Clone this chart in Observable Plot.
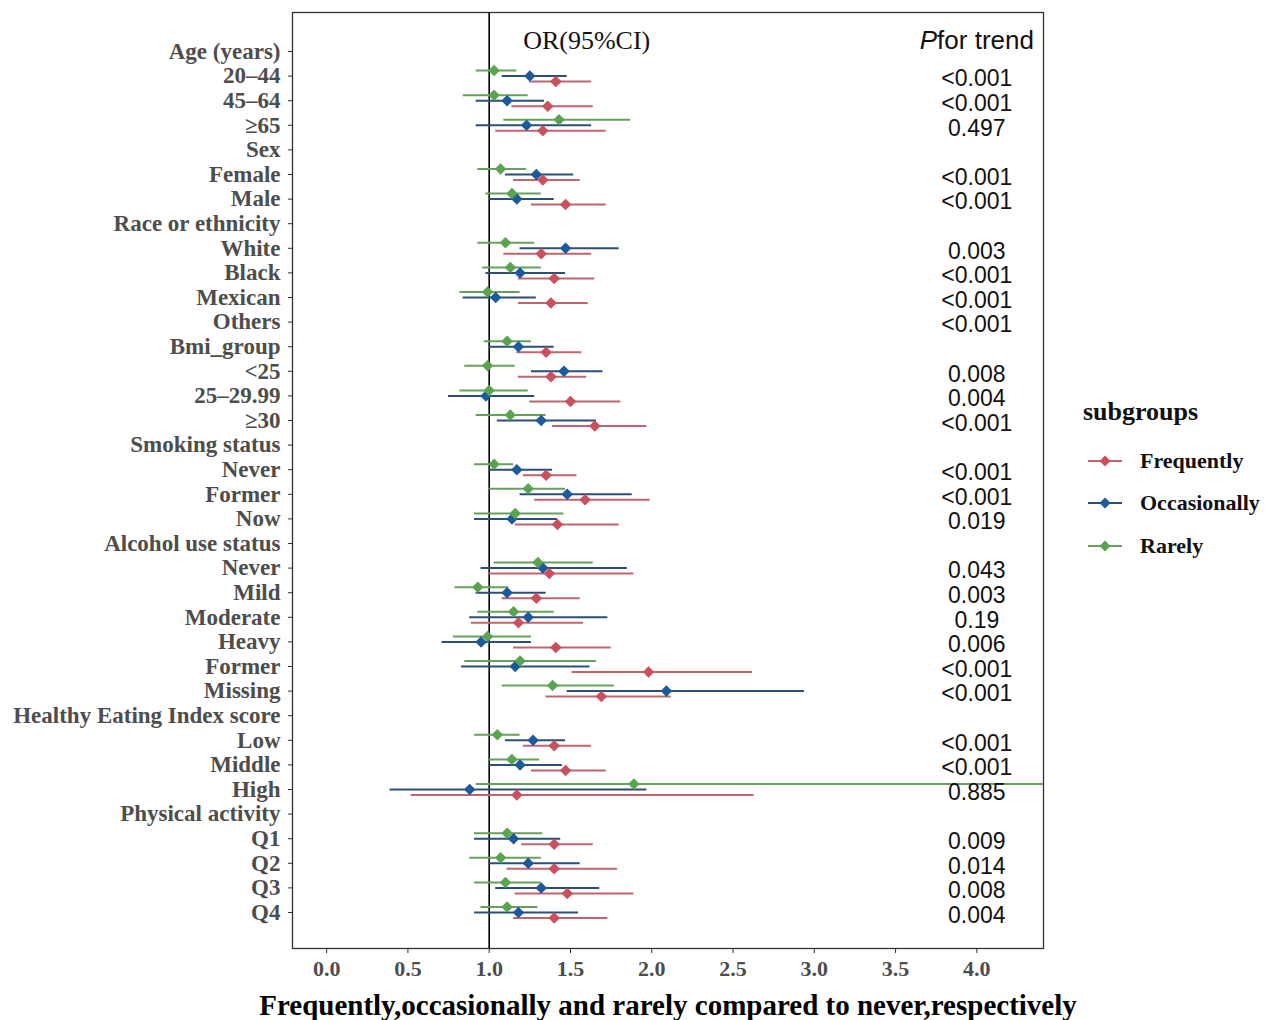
<!DOCTYPE html>
<html>
<head>
<meta charset="utf-8">
<script src="https://cdn.jsdelivr.net/npm/d3@7"></script>
<script src="https://cdn.jsdelivr.net/npm/@observablehq/plot@0.6"></script>
<style>
  body { margin: 0; background: #fff; }
  #wrap { position: relative; width: 1283px; height: 1020px; overflow: hidden; background: #fff; }
  #legend { position: absolute; left: 0; top: 0; font-family: "Liberation Serif", "Times New Roman", serif; font-weight: bold; color: #111; }
  .lg-title { position: absolute; left: 1083px; font-size: 26px; line-height: 26px; white-space: nowrap; }
  .lg-item { position: absolute; left: 1086px; height: 24px; display: flex; align-items: center; white-space: nowrap; font-size: 22px; }
  .lg-item svg { margin-right: 16px; }
</style>
</head>
<body>
<div id="wrap"><div id="legend"></div></div>
<script>
// ---- rows (y axis) ----
const rowKeys = ["age","a20","a45","a65","sex","female","male","race","white","black","mexican","others",
  "bmi","b25","b2529","b30","smoke","sNever","sFormer","sNow","alcohol","aNever","aMild","aModerate",
  "aHeavy","aFormer","aMissing","hei","hLow","hMiddle","hHigh","pa","q1","q2","q3","q4"];
const rowLabels = ["Age (years)","20–44","45–64","≥65","Sex","Female","Male","Race or ethnicity","White","Black","Mexican","Others",
  "Bmi_group","<25","25–29.99","≥30","Smoking status","Never","Former","Now","Alcohol use status","Never","Mild","Moderate",
  "Heavy","Former","Missing","Healthy Eating Index score","Low","Middle","High","Physical activity","Q1","Q2","Q3","Q4"];

// ---- rows that carry estimates ----
const estRows = ["a20","a45","a65","female","male","white","black","mexican","bmi","b25","b2529","b30",
  "sNever","sFormer","sNow","aNever","aMild","aModerate","aHeavy","aFormer","aMissing","hLow","hMiddle","hHigh",
  "q1","q2","q3","q4"];

// Frequently (red)
const freqOR = [1.41,1.36,1.33,1.33,1.47,1.32,1.40,1.38,1.35,1.38,1.50,1.65,1.35,1.59,1.42,1.37,1.29,1.18,1.41,1.98,1.69,1.40,1.47,1.17,1.40,1.40,1.48,1.40];
const freqLo = [1.25,1.14,1.04,1.15,1.26,1.09,1.18,1.18,1.17,1.18,1.25,1.39,1.21,1.28,1.16,1.00,1.08,0.89,1.15,1.51,1.35,1.21,1.26,0.52,1.20,1.11,1.16,1.15];
const freqHi = [1.63,1.64,1.72,1.56,1.72,1.63,1.65,1.61,1.57,1.60,1.81,1.97,1.54,1.99,1.80,1.89,1.56,1.58,1.75,2.62,2.12,1.63,1.72,2.63,1.64,1.79,1.89,1.73];
// Occasionally (blue)
const occOR = [1.25,1.11,1.23,1.29,1.17,1.47,1.19,1.04,1.18,1.46,0.98,1.32,1.17,1.48,1.14,1.33,1.11,1.24,0.95,1.16,2.09,1.27,1.19,0.88,1.15,1.24,1.32,1.18];
const occLo = [1.08,0.92,0.92,1.10,1.00,1.19,0.98,0.84,1.00,1.26,0.75,1.05,1.00,1.19,0.91,0.95,0.92,0.88,0.71,0.83,1.48,1.10,1.00,0.39,0.91,1.00,1.04,0.91];
const occHi = [1.48,1.34,1.63,1.52,1.40,1.80,1.47,1.29,1.40,1.70,1.28,1.66,1.39,1.88,1.42,1.85,1.35,1.73,1.26,1.62,2.94,1.47,1.45,1.97,1.44,1.56,1.68,1.55];
// Rarely (green)
const rareOR = [1.03,1.03,1.43,1.07,1.14,1.10,1.13,0.99,1.11,0.99,1.00,1.13,1.03,1.24,1.16,1.30,0.93,1.15,0.99,1.19,1.39,1.05,1.14,1.89,1.11,1.07,1.10,1.11];
const rareLo = [0.92,0.84,1.09,0.93,0.98,0.93,0.96,0.82,0.97,0.85,0.82,0.92,0.91,1.00,0.91,1.03,0.79,0.93,0.78,0.85,1.08,0.91,1.00,0.92,0.91,0.88,0.91,0.95];
const rareHi = [1.17,1.24,1.87,1.23,1.32,1.28,1.32,1.19,1.26,1.16,1.24,1.35,1.15,1.47,1.46,1.64,1.12,1.40,1.26,1.66,1.77,1.19,1.31,4.50,1.33,1.32,1.32,1.30];

// ---- P for trend ----
const pRows = ["a20","a45","a65","female","male","white","black","mexican","others","b25","b2529","b30",
  "sNever","sFormer","sNow","aNever","aMild","aModerate","aHeavy","aFormer","aMissing","hLow","hMiddle","hHigh",
  "q1","q2","q3","q4"];
const pValues = ["<0.001","<0.001","0.497","<0.001","<0.001","0.003","<0.001","<0.001","<0.001","0.008","0.004","<0.001",
  "<0.001","<0.001","0.019","0.043","0.003","0.19","0.006","<0.001","<0.001","<0.001","<0.001","0.885",
  "0.009","0.014","0.008","0.004"];

// ---- axis ----
const xTicks = [0, 0.5, 1, 1.5, 2, 2.5, 3, 3.5, 4];
const xDomain = [-0.21, 4.41];
const refLine = 1;
const orHeaderX = 1.6;
const pHeaderX = 4.0;

// ---- series ----
const seriesNames = ["Frequently", "Occasionally", "Rarely"];
const pointColors = ["#c9505c", "#1d5a9a", "#5aa34f"];
const lineColors = ["#c26470", "#2b4f78", "#67a05a"];
const seriesOffset = [5.5, 0, -5.5];
const seriesData = [[freqOR, freqLo, freqHi], [occOR, occLo, occHi], [rareOR, rareLo, rareHi]];

const tables = seriesData.map(([or, lo, hi], s) =>
  estRows.map((k, i) => ({ key: k, or: or[i], lo: lo[i], hi: hi[i], series: seriesNames[s] })));
const pTable = pRows.map((k, i) => ({ key: k, p: pValues[i] }));
const labelOf = new Map(rowKeys.map((k, i) => [k, rowLabels[i]]));

const serif = "'Liberation Serif', 'Times New Roman', serif";
const sans = "'Liberation Sans', Arial, sans-serif";

const marks = [
  Plot.frame({ stroke: "#333", strokeWidth: 1.3 }),
  Plot.ruleX([refLine], { stroke: "#000", strokeWidth: 1.6 })
];
for (const s of [0, 1, 2]) {
  marks.push(Plot.ruleY(tables[s], { y: "key", x1: "lo", x2: "hi", stroke: lineColors[s], strokeWidth: 2, dy: seriesOffset[s], clip: true }));
}
for (const s of [0, 1, 2]) {
  marks.push(Plot.dot(tables[s], { x: "or", y: "key", symbol: "diamond2", r: 5.2, fill: pointColors[s], stroke: "none", dy: seriesOffset[s] }));
}
marks.push(
  Plot.text(pTable, { x: () => pHeaderX, y: "key", text: "p", dy: 3, fontFamily: sans, fontSize: 23, fill: "#111" }),
  Plot.text(["OR(95%CI)"], { x: () => orHeaderX, y: () => "age", text: d => d, dy: -11, fontFamily: serif, fontSize: 26, fill: "#111" }),
  Plot.text(["Pfor trend"], { x: () => pHeaderX, y: () => "age", text: d => d, dy: -11, fontFamily: sans, fontSize: 26, fill: "#111", className: "phead" }),
  Plot.axisY({ tickSize: 4, tickPadding: 8, tickFormat: k => labelOf.get(k), fontFamily: serif, fontSize: 23, fontWeight: "bold", fill: "#4d4d4d", stroke: "#333", label: null }),
  Plot.axisX({ ticks: xTicks, tickFormat: d3.format(".1f"), tickSize: 5, tickPadding: 7, fontFamily: serif, fontSize: 22, fontWeight: "bold", fill: "#4d4d4d", stroke: "#333", label: null }),
  Plot.text(["Frequently,occasionally and rarely compared to never,respectively"], {
    frameAnchor: "bottom", dy: 57, lineAnchor: "middle", text: d => d, fontFamily: serif, fontSize: 29, fontWeight: "bold", fill: "#000"
  })
);

const chart = Plot.plot({
  width: 1283,
  height: 1020,
  marginLeft: 292,
  marginRight: 240,
  marginTop: 12,
  marginBottom: 72,
  style: { background: "#fff", overflow: "visible" },
  x: { domain: xDomain, axis: null },
  y: { type: "point", domain: rowKeys, range: [51, 912], padding: 0, round: false, axis: null },
  marks
});
document.getElementById("wrap").prepend(chart);

// italic P in header
d3.select(chart).selectAll(".phead text").each(function () {
  if (this.textContent === "Pfor trend") {
    this.textContent = "";
    d3.select(this).append("tspan").attr("font-style", "italic").text("P");
    d3.select(this).append("tspan").text("for trend");
  }
});

// legend
const legend = d3.select("#legend");
legend.append("div").attr("class", "lg-title").style("top", "399px").text("subgroups");
const itemY = [461, 503, 546];
seriesNames.forEach((name, s) => {
  const item = legend.append("div").attr("class", "lg-item").style("top", (itemY[s] - 12) + "px");
  const svg = item.append("svg").attr("width", 38).attr("height", 14);
  svg.append("line").attr("x1", 2).attr("x2", 36).attr("y1", 7).attr("y2", 7).attr("stroke", lineColors[s]).attr("stroke-width", 2);
  svg.append("path").attr("d", "M19,1.5L24.5,7L19,12.5L13.5,7Z").attr("fill", pointColors[s]);
  item.append("span").text(name);
});
</script>
</body>
</html>
